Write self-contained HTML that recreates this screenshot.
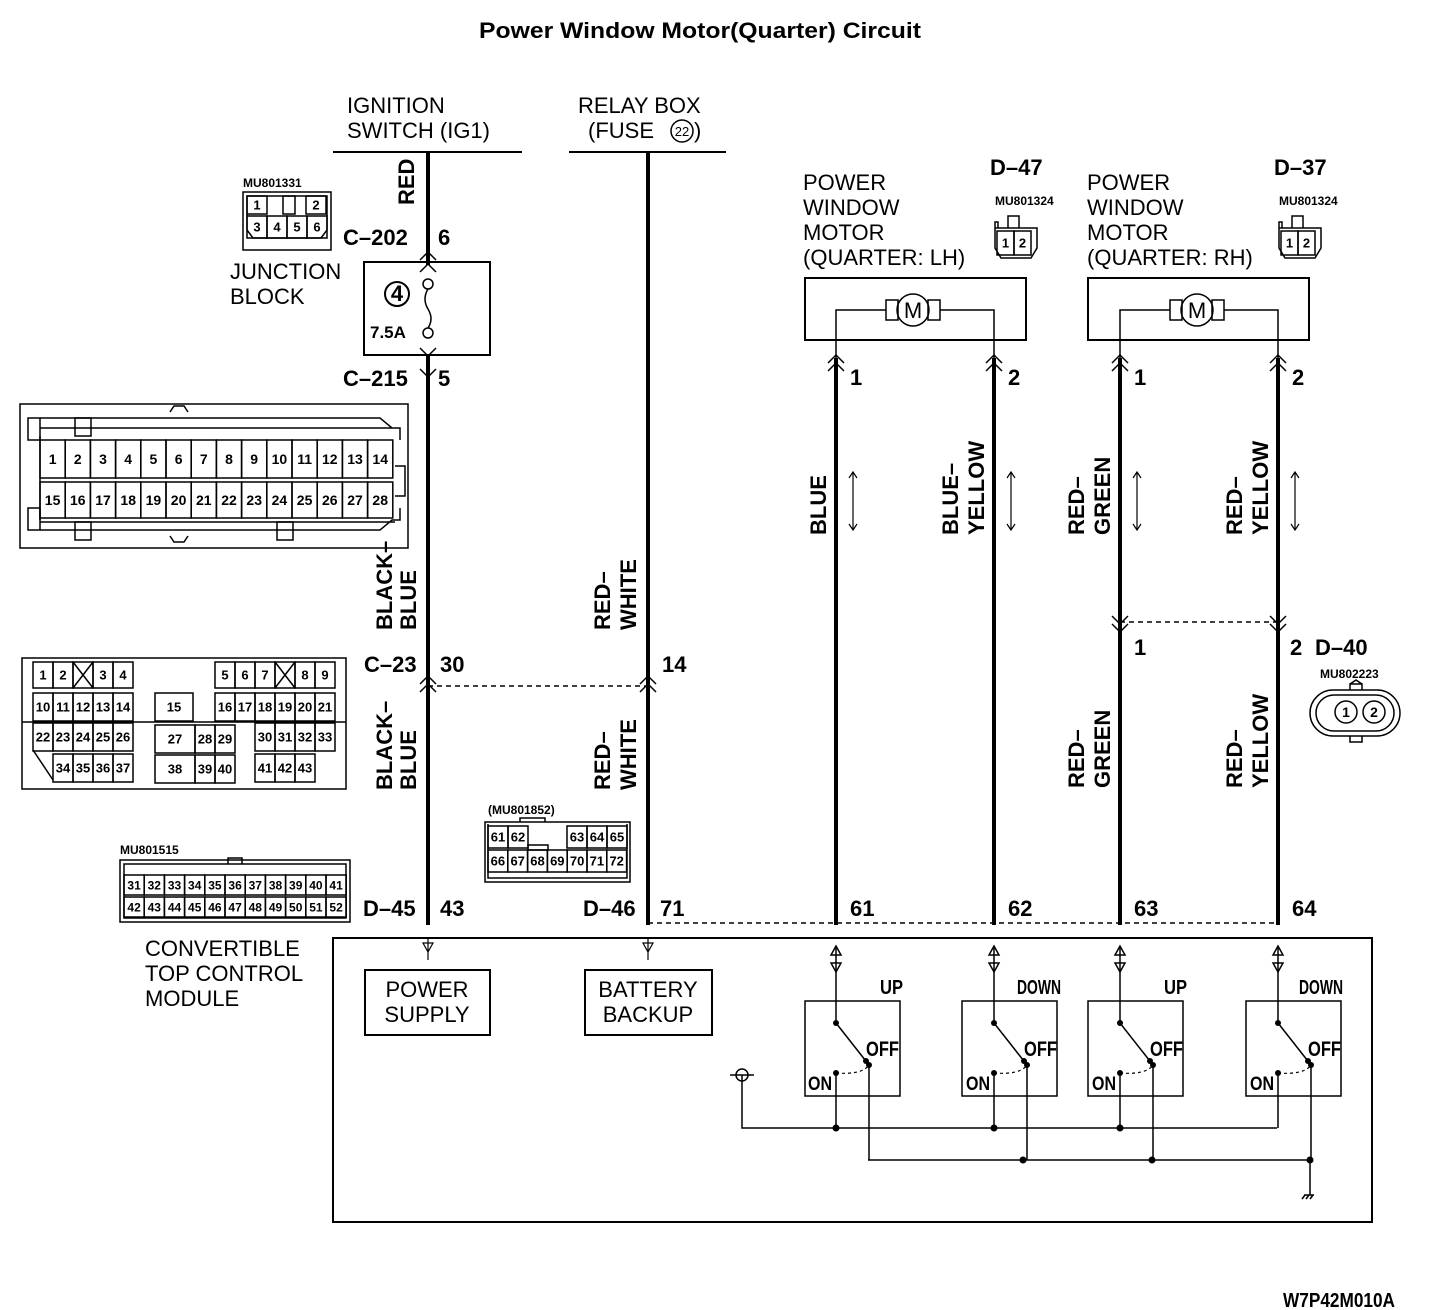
<!DOCTYPE html>
<html><head><meta charset="utf-8"><style>
html,body{margin:0;padding:0;background:#fff}
svg{display:block}
text{font-family:"Liberation Sans",sans-serif;fill:#000}
.b{font-weight:bold}
.n{font-size:22px}
.c{font-weight:bold;font-size:22px}
.s{font-weight:bold;font-size:14px}
.t{font-weight:bold;font-size:12px}
</style></head><body>
<svg id="s" width="1440" height="1310" viewBox="0 0 1440 1310" xmlns="http://www.w3.org/2000/svg">
<g fill="none" stroke="#000" stroke-width="2">
<line x1="333" y1="152" x2="522" y2="152"/>
<line x1="569" y1="152" x2="726" y2="152"/>
<g stroke-width="4">
<line x1="428" y1="152" x2="428" y2="265"/>
<line x1="428" y1="355" x2="428" y2="925"/>
<line x1="648" y1="152" x2="648" y2="925"/>
<line x1="836" y1="358" x2="836" y2="925"/>
<line x1="994" y1="358" x2="994" y2="925"/>
<line x1="1120" y1="358" x2="1120" y2="925"/>
<line x1="1278" y1="358" x2="1278" y2="925"/>
</g>
<rect x="364" y="262" width="126" height="93"/>
<circle cx="397" cy="294" r="12"/>
<circle cx="428" cy="284" r="5" stroke-width="1.5"/>
<circle cx="428" cy="333" r="5" stroke-width="1.5"/>
<path d="M428 289 q-6 10 0 20 q6 10 0 19" stroke-width="1.5"/>
<path d="M420 260 l8 -8 l8 8 M420 272 l8 -8 l8 8 M420 348 l8 8 l8 -8 M420 369 l8 8 l8 -8" stroke-width="1.5"/>
<line x1="428" y1="686" x2="648" y2="686" stroke-dasharray="5,4" stroke-width="1.5"/>
<line x1="1120" y1="622" x2="1278" y2="622" stroke-dasharray="5,4" stroke-width="1.5"/>
<line x1="648" y1="923" x2="1278" y2="923" stroke-dasharray="5,4" stroke-width="1.5"/>
<path d="M420 692 l8 -8 l8 8 M420 684 l8 -8 l8 8 M640 692 l8 -8 l8 8 M640 684 l8 -8 l8 8" stroke-width="1.5"/>
<path d="M1112 616 l8 8 l8 -8 M1112 624 l8 8 l8 -8 M1270 616 l8 8 l8 -8 M1270 624 l8 8 l8 -8" stroke-width="1.5"/>
<path d="M828 363 l8 -8 l8 8 M828 371 l8 -8 l8 8 M986 363 l8 -8 l8 8 M986 371 l8 -8 l8 8 M1112 363 l8 -8 l8 8 M1112 371 l8 -8 l8 8 M1270 363 l8 -8 l8 8 M1270 371 l8 -8 l8 8" stroke-width="1.5"/>
<rect x="805" y="278" width="221" height="62"/>
<rect x="1088" y="278" width="221" height="62"/>
<g stroke-width="1.5">
<path d="M836 358 V310 H886 M940 310 H994 V358"/>
<rect x="886" y="300" width="12" height="20"/><rect x="928" y="300" width="12" height="20"/>
<circle cx="913" cy="310" r="16"/>
<path d="M1120 358 V310 H1170 M1224 310 H1278 V358"/>
<rect x="1170" y="300" width="12" height="20"/><rect x="1212" y="300" width="12" height="20"/>
<circle cx="1197" cy="310" r="16"/>
</g>
<g stroke-width="1.2">
<path d="M853 472 V530 M849 478 l4 -6 l4 6 M849 524 l4 6 l4 -6"/>
<path d="M1011 472 V530 M1007 478 l4 -6 l4 6 M1007 524 l4 6 l4 -6"/>
<path d="M1137 472 V530 M1133 478 l4 -6 l4 6 M1133 524 l4 6 l4 -6"/>
<path d="M1295 472 V530 M1291 478 l4 -6 l4 6 M1291 524 l4 6 l4 -6"/>
</g>
<rect x="333" y="938" width="1039" height="284"/>
<rect x="365" y="970" width="125" height="65"/>
<rect x="585" y="970" width="127" height="65"/>
<g stroke-width="1.2">
<path d="M428 938 V960 M423 943 h10 l-5 9 z M648 938 V960 M643 943 h10 l-5 9 z"/>
</g>
<g stroke-width="1.5">
<rect x="805" y="1001" width="95" height="95"/>
<rect x="962" y="1001" width="95" height="95"/>
<rect x="1088" y="1001" width="95" height="95"/>
<rect x="1246" y="1001" width="95" height="95"/>
<path d="M742 1075 V1128 H1277"/>
<path d="M868 1160 H1310"/>
<path d="M1310 1160 V1195"/>
<path d="M730 1075 h24"/><circle cx="742" cy="1075" r="6"/>
<path d="M1304 1195 h10 M1302 1199 l3 -4 M1306 1199 l3 -4 M1310 1199 l3 -4"/>
</g>
</g>
<g id="sw"></g>
<g id="con" fill="none" stroke="#000" stroke-width="1.5"></g>

<text x="700" y="38" text-anchor="middle" class="b" font-size="22" textLength="442" lengthAdjust="spacingAndGlyphs">Power Window Motor(Quarter) Circuit</text>
<text x="347" y="113" class="n">IGNITION</text>
<text x="347" y="138" class="n">SWITCH (IG1)</text>
<text x="578" y="113" class="n">RELAY BOX</text>
<text x="588" y="138" class="n">(FUSE</text>
<circle cx="682" cy="131" r="11" fill="none" stroke="#000" stroke-width="1.5"/>
<text x="682" y="136" text-anchor="middle" font-size="13">22</text>
<text x="694" y="138" class="n">)</text>
<text transform="translate(414,205) rotate(-90)" class="c">RED</text>
<text x="343" y="245" class="c">C–202</text><text x="438" y="245" class="c">6</text>
<text x="230" y="279" class="n">JUNCTION</text>
<text x="230" y="304" class="n">BLOCK</text>
<text x="397" y="301" text-anchor="middle" class="c" font-size="18">4</text>
<text x="370" y="338" class="b" font-size="17">7.5A</text>
<text x="343" y="386" class="c">C–215</text><text x="438" y="386" class="c">5</text>
<text x="243" y="187" class="t">MU801331</text>
<text x="913" y="318" text-anchor="middle" font-size="22">M</text>
<text x="1197" y="318" text-anchor="middle" font-size="22">M</text>
<text transform="translate(392,630) rotate(-90)" class="c">BLACK–</text>
<text transform="translate(416,630) rotate(-90)" class="c">BLUE</text>
<text transform="translate(392,790) rotate(-90)" class="c">BLACK–</text>
<text transform="translate(416,790) rotate(-90)" class="c">BLUE</text>
<text transform="translate(610,630) rotate(-90)" class="c">RED–</text>
<text transform="translate(636,630) rotate(-90)" class="c">WHITE</text>
<text transform="translate(610,790) rotate(-90)" class="c">RED–</text>
<text transform="translate(636,790) rotate(-90)" class="c">WHITE</text>
<text x="364" y="672" class="c">C–23</text><text x="440" y="672" class="c">30</text><text x="662" y="672" class="c">14</text>
<text x="803" y="190" class="n">POWER</text><text x="803" y="215" class="n">WINDOW</text><text x="803" y="240" class="n">MOTOR</text><text x="803" y="265" class="n">(QUARTER: LH)</text>
<text x="1087" y="190" class="n">POWER</text><text x="1087" y="215" class="n">WINDOW</text><text x="1087" y="240" class="n">MOTOR</text><text x="1087" y="265" class="n">(QUARTER: RH)</text>
<text x="990" y="175" class="c">D–47</text><text x="1274" y="175" class="c">D–37</text>
<text x="995" y="205" class="t">MU801324</text><text x="1279" y="205" class="t">MU801324</text>
<text x="850" y="385" class="c">1</text><text x="1008" y="385" class="c">2</text>
<text x="1134" y="385" class="c">1</text><text x="1292" y="385" class="c">2</text>
<text transform="translate(826,535) rotate(-90)" class="c">BLUE</text>
<text transform="translate(958,535) rotate(-90)" class="c">BLUE–</text>
<text transform="translate(984,535) rotate(-90)" class="c">YELLOW</text>
<text transform="translate(1084,535) rotate(-90)" class="c">RED–</text>
<text transform="translate(1110,535) rotate(-90)" class="c">GREEN</text>
<text transform="translate(1242,535) rotate(-90)" class="c">RED–</text>
<text transform="translate(1268,535) rotate(-90)" class="c">YELLOW</text>
<text transform="translate(1084,788) rotate(-90)" class="c">RED–</text>
<text transform="translate(1110,788) rotate(-90)" class="c">GREEN</text>
<text transform="translate(1242,788) rotate(-90)" class="c">RED–</text>
<text transform="translate(1268,788) rotate(-90)" class="c">YELLOW</text>
<text x="1134" y="655" class="c">1</text><text x="1290" y="655" class="c">2</text><text x="1315" y="655" class="c">D–40</text>
<text x="1320" y="678" class="t">MU802223</text>
<text x="488" y="814" class="t">(MU801852)</text>
<text x="120" y="854" class="t">MU801515</text>
<text x="363" y="916" class="c">D–45</text><text x="440" y="916" class="c">43</text>
<text x="583" y="916" class="c">D–46</text><text x="660" y="916" class="c">71</text>
<text x="850" y="916" class="c">61</text><text x="1008" y="916" class="c">62</text>
<text x="1134" y="916" class="c">63</text><text x="1292" y="916" class="c">64</text>
<text x="145" y="956" class="n">CONVERTIBLE</text><text x="145" y="981" class="n">TOP CONTROL</text><text x="145" y="1006" class="n">MODULE</text>
<text x="427" y="997" text-anchor="middle" class="n">POWER</text><text x="427" y="1022" text-anchor="middle" class="n">SUPPLY</text>
<text x="648" y="997" text-anchor="middle" class="n">BATTERY</text><text x="648" y="1022" text-anchor="middle" class="n">BACKUP</text>
<text x="880" y="994" class="b" font-size="20" textLength="23" lengthAdjust="spacingAndGlyphs">UP</text><text x="1017" y="994" class="b" font-size="20" textLength="44" lengthAdjust="spacingAndGlyphs">DOWN</text>
<text x="1164" y="994" class="b" font-size="20" textLength="23" lengthAdjust="spacingAndGlyphs">UP</text><text x="1299" y="994" class="b" font-size="20" textLength="44" lengthAdjust="spacingAndGlyphs">DOWN</text>
<text x="1283" y="1307" class="b" font-size="20" textLength="112" lengthAdjust="spacingAndGlyphs">W7P42M010A</text>
</svg>
<script>
var NS="http://www.w3.org/2000/svg";
function el(p,t,a,txt){var e=document.createElementNS(NS,t);for(var k in a)e.setAttribute(k,a[k]);if(txt!=null)e.textContent=txt;p.appendChild(e);return e;}
var con=document.getElementById('con'),sv=document.getElementById('s');
function cell(x,y,w,h,t,fs){el(con,'rect',{x:x,y:y,width:w,height:h});if(t!=null)el(sv,'text',{x:x+w/2,y:y+h/2+(fs||14)*0.36,'text-anchor':'middle','font-weight':'bold','font-size':fs||14},t);}
var sx=[836,994,1120,1278];
var swg=document.getElementById('sw');
sx.forEach(function(x,i){
 var g={fill:'none',stroke:'#000','stroke-width':1.5};
 el(swg,'path',Object.assign({d:'M'+x+' 948 V1023 M'+(x+33)+' 1065 L'+x+' 1023 M'+x+' 1073 V1128 M'+(x+33)+' 1065 V1160'},g));
 el(swg,'path',Object.assign({d:'M'+(x-5)+' 955 h10 l-5 -9 z M'+(x-5)+' 963 h10 l-5 9 z'},g));
 el(swg,'path',{d:'M'+x+' 1073 q26 2 33 -8',fill:'none',stroke:'#000','stroke-width':1.2,'stroke-dasharray':'3,3'});
 [[x,1023],[x+30,1061],[x+33,1065],[x,1073]].forEach(function(p){el(swg,'circle',{cx:p[0],cy:p[1],r:3,fill:'#000'});});
 el(sv,'text',{x:x-28,y:1090,'font-weight':'bold','font-size':19,textLength:24,lengthAdjust:'spacingAndGlyphs'},'ON');
 el(sv,'text',{x:x+30,y:1056,'font-weight':'bold','font-size':21,textLength:33,lengthAdjust:'spacingAndGlyphs'},'OFF');
});
[[836,1128],[994,1128],[1120,1128],[1023,1160],[1152,1160],[1310,1160]].forEach(function(p){el(swg,'circle',{cx:p[0],cy:p[1],r:3.5,fill:'#000'});});
el(con,'rect',{x:20,y:404,width:388,height:144});
el(con,'path',{d:'M40 436 V520 M40 418 H380 l12 10 h8 v12 M40 530 H380 l12 -10 h8 v-12 M40 428 H395 M40 522 H395 M170 412 l4 -6 h10 l4 6 M170 536 l4 6 h10 l4 -6 M395 466 h10 v30 h-10'});
el(con,'rect',{x:28,y:418,width:12,height:22});el(con,'rect',{x:75,y:418,width:16,height:18});
el(con,'rect',{x:28,y:508,width:12,height:22});el(con,'rect',{x:75,y:522,width:16,height:18});el(con,'rect',{x:277,y:522,width:16,height:18});
for(var i=0;i<14;i++){cell(40+i*25.2,440,25.2,38,String(i+1),14);cell(40+i*25.2,482,25.2,36,String(i+15),14);}
el(con,'rect',{x:22,y:658,width:324,height:131});
function row(arr,y,h,w){arr.forEach(function(a){var ww=a[2]||(w||20);if(a[1]=='X'){el(con,'rect',{x:a[0],y:y,width:ww,height:h});el(con,'path',{d:'M'+a[0]+' '+y+' l'+ww+' '+h+' M'+(a[0]+ww)+' '+y+' l-'+ww+' '+h});}else cell(a[0],y,ww,h,a[1],13);});}
row([[33,'1'],[53,'2'],[73,'X'],[93,'3'],[113,'4']],662,26);
row([[215,'5'],[235,'6'],[255,'7'],[275,'X'],[295,'8'],[315,'9']],662,26);
row([[33,'10'],[53,'11'],[73,'12'],[93,'13'],[113,'14']],693,28);
row([[155,'15',38]],693,28);
row([[215,'16'],[235,'17'],[255,'18'],[275,'19'],[295,'20'],[315,'21']],693,28);
row([[33,'22'],[53,'23'],[73,'24'],[93,'25'],[113,'26']],723,28);
row([[155,'27',40],[195,'28'],[215,'29']],725,28);
row([[255,'30'],[275,'31'],[295,'32'],[315,'33']],723,28);
row([[53,'34'],[73,'35'],[93,'36'],[113,'37']],754,28);
row([[155,'38',40],[195,'39'],[215,'40']],755,28);
row([[255,'41'],[275,'42'],[295,'43']],754,28);
el(con,'path',{d:'M22 722 H346 M33 750 l20 30'});
el(con,'path',{d:'M243 192 h88 v58 h-88 z M247 196 h80 v34 l-6 8 h-68 l-6 -8 z'});
[[247,'1'],[306,'2']].forEach(function(a){cell(a[0],196,20,18,a[1],13);});
el(con,'rect',{x:283,y:196,width:12,height:18});
[[247,'3'],[267,'4'],[287,'5'],[307,'6']].forEach(function(a){cell(a[0],216,20,22,a[1],13);});
[995,1279].forEach(function(x){el(con,'path',{d:'M'+x+' 228 v20 l6 10 h30 l6 -10 v-20 z M'+(x+13)+' 228 v-12 h11 v12 M'+x+' 228 v-6 h3 v6'});cell(x+2,231,17,24,'1',13);cell(x+19,231,17,24,'2',13);});
el(con,'rect',{x:1310,y:690,width:90,height:46,rx:23});el(con,'rect',{x:1316,y:695,width:78,height:36,rx:18});
el(con,'path',{d:'M1350 690 v-6 h12 v6 M1350 736 v6 h12 v-6 M1350 684 l6 -4 l6 4'});
el(con,'circle',{cx:1346,cy:712,r:11});el(con,'circle',{cx:1374,cy:712,r:11});
el(sv,'text',{x:1346,y:717,'text-anchor':'middle','font-weight':'bold','font-size':14},'1');
el(sv,'text',{x:1374,y:717,'text-anchor':'middle','font-weight':'bold','font-size':14},'2');
el(con,'path',{d:'M485 822 h145 v60 h-145 z M488 824 v54 h139 v-54 M520 822 v-4 h25 v4'});
[[488,'61'],[508,'62']].forEach(function(a){cell(a[0],826,20,22,a[1],13);});
[[567,'63'],[587,'64'],[607,'65']].forEach(function(a){cell(a[0],826,20,22,a[1],13);});
['66','67','68','69','70','71','72'].forEach(function(t,i){cell(488+i*19.8,850,19.8,22,t,13);});
el(con,'rect',{x:528,y:845,width:20,height:5});
el(con,'path',{d:'M120 860 h230 v62 h-230 z M124 864 h222 v54 h-222 z M228 864 v-6 h14 v6'});
for(var j=0;j<11;j++){cell(124+j*20.2,875,20.2,20,String(31+j),12);cell(124+j*20.2,897,20.2,20,String(42+j),12);}
</script>
</body></html>
